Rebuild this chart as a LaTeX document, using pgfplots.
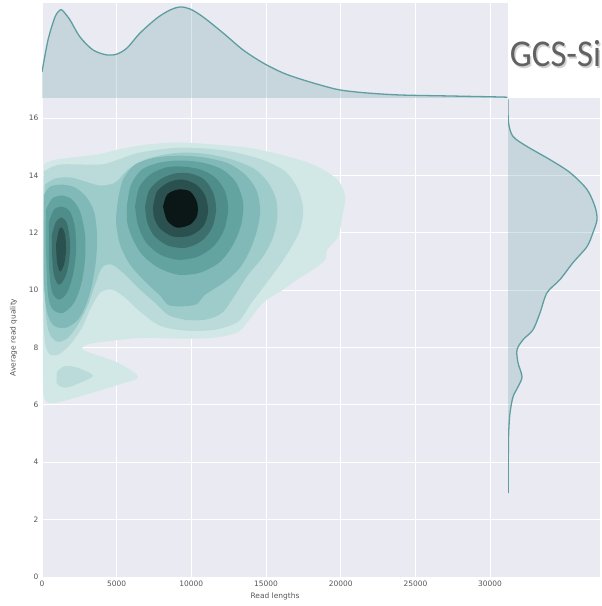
\documentclass[border=0pt]{standalone}
\usepackage{fontspec}
\setmainfont{DejaVu Sans}
\newfontfamily\titlefont{Carlito}
\usepackage{pgfplots}
\pgfplotsset{compat=1.18}

\definecolor{bg}{HTML}{EAEAF2}
\definecolor{tickgray}{HTML}{555555}
\definecolor{cadet}{HTML}{5F9EA0}
\definecolor{c1}{HTML}{D2E8E7}
\definecolor{c2}{HTML}{BADBD9}
\definecolor{c3}{HTML}{9ECCCA}
\definecolor{c4}{HTML}{80B9B7}
\definecolor{c5}{HTML}{63A4A1}
\definecolor{c6}{HTML}{4F8D8A}
\definecolor{c7}{HTML}{3D6F6D}
\definecolor{c8}{HTML}{2A504F}
\definecolor{c9}{HTML}{0B1616}

\pgfplotsset{
  darkgrid/.style={
    scale only axis,
    anchor=south west,
    axis background/.style={fill=bg},
    axis line style={draw=none},
    tick style={draw=none},
    grid=major,
    major grid style={draw=white, line width=0.9bp},
    tick label style={font=\fontsize{7.5}{9}\selectfont, text=tickgray},
    label style={font=\fontsize{7.5}{9}\selectfont, text=tickgray},
    /pgf/number format/assume math mode=true,
    /pgf/number format/1000 sep={},
    scaled ticks=false,
  },
  level/.style={fill=#1, draw=none, smooth, tension=0.5},
}

\begin{document}
\begin{tikzpicture}
\useasboundingbox (0,0) rectangle (602bp,606bp);

% joint KDE of read length against mean quality
\begin{axis}[darkgrid, at={(42bp,29bp)}, width=466bp, height=479bp,
  xmin=0, xmax=31200, ymin=0, ymax=16.7,
  xtick={0,5000,...,30000}, ytick={0,2,...,16},
  xlabel={Read lengths}, ylabel={Average read quality},
  ylabel style={yshift=5bp}]
% level 1
\addplot[level=c1] coordinates {(134,14.38) (871,14.55) (3685,14.73) (5025,14.90) (7035,15.08) (9246,15.15) (11457,15.08) (13735,14.97) (15946,14.73) (18157,14.38) (19765,13.86) (20301,13.26) (20100,12.57) (19832,11.87) (19095,11.41) (18961,11.06) (18157,10.72) (17085,10.37) (16147,10.02) (14807,9.56) (13735,8.87) (13065,8.52) (11457,8.34) (9246,8.31) (7035,8.34) (5226,8.27) (3216,8.13) (2680,7.96) (3216,7.82) (5092,7.47) (6432,6.98) (5092,6.70) (2881,6.35) (871,6.07) (201,6.18) (67,6.88) (67,9.67) (67,13.16) (134,14.38)} -- cycle;
% level 2
\addplot[level=c2] coordinates {(134,14.14) (1206,14.38) (3886,14.38) (5092,14.55) (6566,14.80) (9246,14.97) (12261,14.87) (14740,14.55) (16281,14.14) (17152,13.51) (17487,12.81) (17286,12.11) (16750,11.55) (15946,10.89) (14941,10.19) (13936,9.49) (13132,8.90) (11591,8.62) (9581,8.59) (7906,8.76) (6566,9.25) (5561,9.74) (4690,10.02) (3886,9.91) (3216,9.32) (2680,8.69) (1876,8.10) (1072,7.75) (402,7.82) (134,8.62) (67,11.41) (134,14.14)} -- cycle;
\addplot[level=c2] coordinates {(1005,7.16) (1541,7.36) (2412,7.29) (3417,7.02) (2546,6.77) (1608,6.60) (1005,6.74) (1005,7.16)} -- cycle;
% level 3
\addplot[level=c3] coordinates {(201,13.68) (871,13.89) (1876,13.93) (2881,13.79) (3886,13.65) (4891,13.75) (5762,14.21) (6901,14.55) (8241,14.73) (9581,14.80) (11256,14.73) (12931,14.52) (14271,14.21) (15142,13.75) (15678,13.16) (15745,12.46) (15410,11.76) (14740,11.13) (13802,10.54) (12931,9.84) (12060,9.21) (10921,8.97) (9581,8.97) (8442,9.14) (7571,9.56) (6566,10.02) (5561,10.54) (4690,10.89) (4020,10.79) (3551,10.19) (3082,9.49) (2412,8.80) (1742,8.34) (1072,8.20) (536,8.45) (268,9.14) (134,11.06) (201,13.68)} -- cycle;
% level 4
\addplot[level=c4] coordinates {(5092,13.16) (5427,13.86) (6231,14.38) (7571,14.62) (9246,14.69) (10921,14.62) (12462,14.42) (13601,14.03) (14338,13.51) (14606,12.81) (14405,12.11) (13936,11.41) (13266,10.79) (12261,10.30) (10921,9.84) (10251,9.49) (8576,9.46) (7906,9.81) (6901,10.30) (5896,10.89) (5226,11.59) (4958,12.39) (5092,13.16)} -- cycle;
\addplot[level=c4] coordinates {(134,13.33) (536,13.61) (1340,13.68) (2211,13.58) (2948,13.26) (3484,12.74) (3685,11.94) (3618,11.06) (3350,10.19) (2948,9.49) (2412,8.97) (1608,8.69) (804,8.76) (335,9.25) (134,10.37) (134,13.33)} -- cycle;
% level 5
\addplot[level=c5] coordinates {(5695,12.98) (5963,13.68) (6700,14.21) (7906,14.45) (9246,14.52) (10720,14.45) (12060,14.21) (12998,13.75) (13467,13.05) (13333,12.29) (12797,11.59) (11926,10.99) (10586,10.61) (9112,10.54) (7772,10.79) (6700,11.24) (6030,11.83) (5695,12.39) (5695,12.98)} -- cycle;
\addplot[level=c5] coordinates {(268,12.81) (670,13.19) (1340,13.30) (2010,13.16) (2546,12.74) (2881,11.94) (2881,11.06) (2613,10.19) (2144,9.56) (1407,9.21) (737,9.32) (402,9.84) (268,11.41) (268,12.81)} -- cycle;
% level 6
\addplot[level=c6] coordinates {(6231,12.91) (6499,13.58) (7236,14.03) (8308,14.28) (9380,14.31) (10586,14.21) (11591,13.93) (12261,13.44) (12462,12.81) (12194,12.11) (11524,11.55) (10452,11.17) (9112,11.06) (7906,11.24) (6968,11.66) (6432,12.25) (6231,12.91)} -- cycle;
\addplot[level=c6] coordinates {(469,12.39) (804,12.81) (1340,12.91) (1876,12.74) (2211,12.18) (2278,11.34) (2077,10.54) (1675,9.91) (1139,9.67) (670,9.95) (469,10.89) (469,12.39)} -- cycle;
% level 7
\addplot[level=c7] coordinates {(6901,12.91) (7169,13.47) (7906,13.86) (8911,14.07) (9916,14.07) (10854,13.86) (11457,13.40) (11658,12.81) (11390,12.18) (10720,11.73) (9648,11.48) (8442,11.55) (7504,11.90) (7035,12.39) (6901,12.91)} -- cycle;
\addplot[level=c7] coordinates {(670,11.94) (938,12.39) (1340,12.53) (1675,12.32) (1876,11.69) (1809,10.99) (1541,10.44) (1139,10.19) (804,10.51) (670,11.24) (670,11.94)} -- cycle;
% level 8
\addplot[level=c8] coordinates {(7437,12.91) (7705,13.44) (8442,13.75) (9380,13.86) (10318,13.68) (10921,13.30) (11122,12.74) (10787,12.22) (9916,11.90) (8777,11.87) (7906,12.15) (7504,12.53) (7437,12.91)} -- cycle;
\addplot[level=c8] coordinates {(938,11.59) (1139,12.11) (1340,12.18) (1541,11.94) (1608,11.41) (1474,10.89) (1206,10.65) (1005,10.99) (938,11.59)} -- cycle;
% level 9
\addplot[level=c9] coordinates {(8107,12.91) (8375,13.33) (9112,13.51) (9916,13.44) (10385,13.05) (10385,12.60) (9916,12.29) (9045,12.18) (8375,12.43) (8107,12.91)} -- cycle;
\end{axis}

% marginal density of read length
\begin{axis}[darkgrid, at={(42bp,508bp)}, width=466bp, height=95bp,
  xmin=0, xmax=31200, ymin=0, ymax=95,
  xtick={0,5000,...,30000}, xticklabels={}, ytick=\empty]
\addplot[fill=cadet, fill opacity=0.25, draw=none, smooth, tension=0.5] coordinates {(0,26) (402,58) (871,81) (1206,88) (1407,87) (1876,78) (2546,61) (3417,48) (4355,43) (5025,44) (5695,50) (6566,65) (7705,80) (8576,88) (9246,91) (9916,89) (10787,81) (12127,65) (13467,48) (14807,35) (16147,25) (17286,19) (18626,13) (19966,8) (21775,5) (23986,3) (27336,2) (30686,1) (31155,0.7)} \closedcycle;
\addplot[cadet, line width=1.3bp, smooth, tension=0.5] coordinates {(0,26) (402,58) (871,81) (1206,88) (1407,87) (1876,78) (2546,61) (3417,48) (4355,43) (5025,44) (5695,50) (6566,65) (7705,80) (8576,88) (9246,91) (9916,89) (10787,81) (12127,65) (13467,48) (14807,35) (16147,25) (17286,19) (18626,13) (19966,8) (21775,5) (23986,3) (27336,2) (30686,1) (31155,0.7)};
\end{axis}

% marginal density of quality
\begin{axis}[darkgrid, at={(508bp,29bp)}, width=92bp, height=479bp,
  xmin=0, xmax=92, ymin=0, ymax=16.7,
  xtick=\empty, ytick={0,2,...,16}, yticklabels={}]
\addplot[fill=cadet, fill opacity=0.25, draw=none, smooth, tension=0.5] coordinates {(0,16.65) (0.5,15.85) (5,15.36) (19,15.01) (42,14.55) (62,14.10) (79,13.51) (87,12.91) (89,12.46) (85,12.01) (79,11.52) (65,10.96) (52,10.37) (39,9.91) (32,9.21) (25,8.62) (15,8.27) (9,7.92) (10,7.47) (14,6.98) (10,6.63) (5,6.28) (2,5.72) (0.8,5.13) (0.4,4.54) (0.1,2.93) (0,2.93)} -- cycle;
\addplot[cadet, line width=1.3bp, smooth, tension=0.5] coordinates {(0,16.65) (0.5,15.85) (5,15.36) (19,15.01) (42,14.55) (62,14.10) (79,13.51) (87,12.91) (89,12.46) (85,12.01) (79,11.52) (65,10.96) (52,10.37) (39,9.91) (32,9.21) (25,8.62) (15,8.27) (9,7.92) (10,7.47) (14,6.98) (10,6.63) (5,6.28) (2,5.72) (0.8,5.13) (0.4,4.54) (0.1,2.93)};
\end{axis}

\node[anchor=base, font=\titlefont\fontsize{38}{40}\selectfont, text=black!18, xscale=0.92] at (557bp,537.5bp) {GCS-Si};
\node[anchor=base, font=\titlefont\fontsize{38}{40}\selectfont, text=black!62, xscale=0.92] at (555.5bp,539bp) {GCS-Si};
\end{tikzpicture}
\end{document}
